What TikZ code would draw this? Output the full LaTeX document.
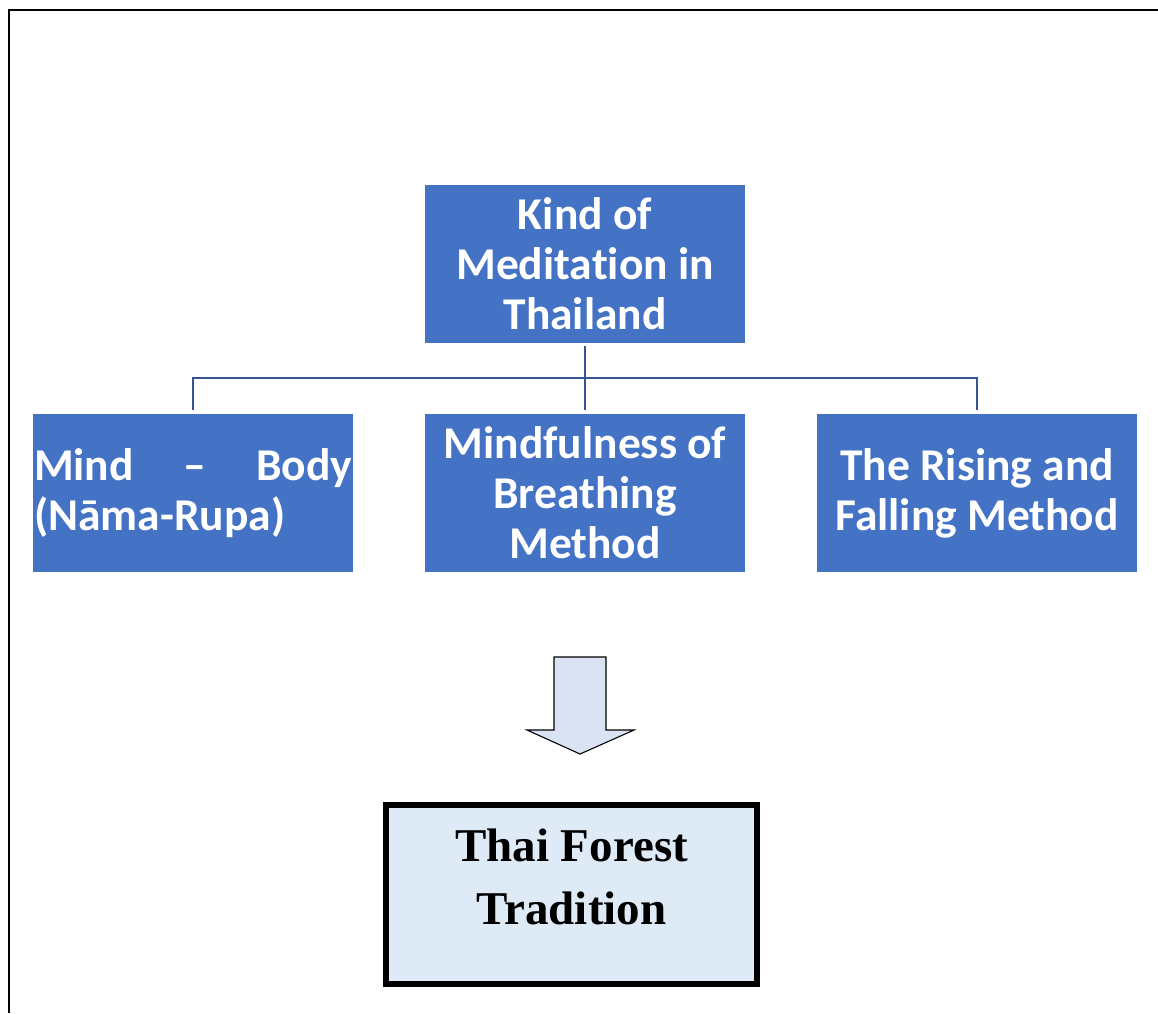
\documentclass[tikz,border=0pt]{standalone}
\usepackage{fontspec}
\setmainfont{Liberation Serif}
\newfontfamily\calib[Ligatures=NoCommon]{Carlito}
\definecolor{boxblue}{RGB}{68,114,196}
\definecolor{linkblue}{RGB}{52,84,148}
\definecolor{arrowfill}{RGB}{218,227,243}
\definecolor{resultfill}{RGB}{222,234,246}
\tikzset{
  bluebox/.style={fill=boxblue, text=white, minimum width=320pt, minimum height=158pt,
    inner sep=0pt, align=center, font=\calib\bfseries\fontsize{45.5}{50}\selectfont},
  link/.style={draw=linkblue, line width=1.6pt},
  framebar/.style={line width=2.4pt, black},
}
\begin{document}
\begin{tikzpicture}[x=1pt,y=-1pt]
\useasboundingbox (0,0) rectangle (1158,1013);
% outer frame (top and left only)
\draw[framebar] (9,1013) -- (9,10) -- (1158,10);
% nodes
\node[bluebox] (top) at (585,263.5) {Kind of\\Meditation in\\Thailand};
\node[bluebox] (left) at (193,493) {\parbox{318pt}{\raggedright Mind\hfill–\hfill Body\\(Nāma-Rupa)}};
\node[bluebox] (mid) at (585,493) {Mindfulness of\\Breathing\\Method};
\node[bluebox] (right) at (977,493) {The Rising and\\Falling Method};
% connectors
\coordinate (bus) at (585,378);
\draw[link, shorten <=3pt] (top.south) -- (bus);
\draw[link, shorten >=4pt] (bus) -| (left.north);
\draw[link, shorten >=4pt] (bus) -| (right.north);
\draw[link, shorten >=4pt] (bus) -- (mid.north);
% block arrow
\draw[fill=arrowfill, line width=1.1pt, line join=miter]
  (554,657) -- (606,657) -- (606,730) -- (634,730) -- (580,754) -- (527,730) -- (554,730) -- cycle;
% result box
\node[draw=black, line width=6pt, fill=resultfill, minimum width=371pt, minimum height=179pt, inner sep=0pt] (thai) at (571.5,894.5) {};
\node[font=\bfseries\fontsize{47}{63}\selectfont, align=center, inner sep=0pt] (thaitext) at ([yshift=18pt]thai.center) {Thai Forest\\Tradition};
\end{tikzpicture}
\end{document}
